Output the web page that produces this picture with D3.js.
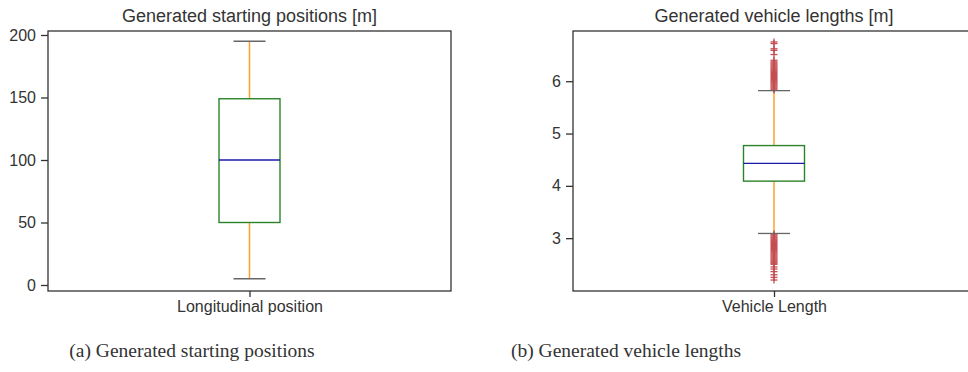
<!DOCTYPE html>
<html>
<head>
<meta charset="utf-8">
<script src="https://cdn.jsdelivr.net/npm/d3@7"></script>
<style>
  body { margin: 0; background: #fff; }
  svg text { fill: #333; }
</style>
</head>
<body>
<svg id="chart" width="968" height="372"></svg>
<script>
// box stats: [low whisker, Q1, median, Q3, high whisker]
const posCategories = ["Longitudinal position"];
const posStats = [5, 50, 100, 149, 195];
const posTicks = [0, 50, 100, 150, 200];

const lenCategories = ["Vehicle Length"];
const lenStats = [3.09, 4.09, 4.43, 4.77, 5.82];
const lenTicks = [3, 4, 5, 6];
const lenFliersHigh = [5.83, 5.85, 5.87, 5.89, 5.91, 5.93, 5.95, 5.97, 5.99, 6.01,
    6.03, 6.05, 6.07, 6.09, 6.11, 6.13, 6.15, 6.17, 6.19, 6.21, 6.23, 6.25, 6.27,
    6.29, 6.31, 6.33, 6.35, 6.37, 6.40, 6.51, 6.59, 6.62, 6.72, 6.75];
const lenFliersLow = [3.08, 3.06, 3.04, 3.02, 3.00, 2.98, 2.96, 2.94, 2.92, 2.90,
    2.88, 2.86, 2.84, 2.82, 2.80, 2.78, 2.76, 2.74, 2.72, 2.70, 2.68, 2.66, 2.64,
    2.62, 2.60, 2.58, 2.56, 2.54, 2.52, 2.50, 2.45, 2.41, 2.36, 2.30, 2.25, 2.20];

const titles = ["Generated starting positions [m]", "Generated vehicle lengths [m]"];
const captions = ["(a) Generated starting positions", "(b) Generated vehicle lengths"];

const svg = d3.select("#chart");

function drawBox(opts) {
    const { left, right, top, bottom, domain, cats, stats, ticks, fliers, title } = opts;
    const g = svg.append("g");

    const x = d3.scalePoint().domain(cats).range([left, right]).padding(0.5);
    const y = d3.scaleLinear().domain(domain).range([bottom, top]);

    const boxW = 61, capW = 32;
    const cx = x(cats[0]);
    const [lo, q1, med, q3, hi] = stats;

    // whiskers
    g.append("line").attr("x1", cx).attr("x2", cx).attr("y1", y(q3)).attr("y2", y(hi))
        .attr("stroke", "#ff9f2e").attr("stroke-width", 1.5);
    g.append("line").attr("x1", cx).attr("x2", cx).attr("y1", y(q1)).attr("y2", y(lo))
        .attr("stroke", "#ff9f2e").attr("stroke-width", 1.5);

    // fliers as '+'
    const fl = g.append("g").attr("stroke", "#c44e52").attr("stroke-width", 1.3);
    fliers.forEach(v => {
        fl.append("line").attr("x1", cx - 3.5).attr("x2", cx + 3.5).attr("y1", y(v)).attr("y2", y(v));
        fl.append("line").attr("x1", cx).attr("x2", cx).attr("y1", y(v) - 3.5).attr("y2", y(v) + 3.5);
    });

    // caps
    [lo, hi].forEach(v => {
        g.append("line").attr("x1", cx - capW / 2).attr("x2", cx + capW / 2)
            .attr("y1", y(v)).attr("y2", y(v))
            .attr("stroke", "#666").attr("stroke-width", 1.3);
    });

    // box
    g.append("rect").attr("x", cx - boxW / 2).attr("width", boxW)
        .attr("y", y(q3)).attr("height", y(q1) - y(q3))
        .attr("fill", "none").attr("stroke", "#2a832a").attr("stroke-width", 1.4);
    g.append("line").attr("x1", cx - boxW / 2).attr("x2", cx + boxW / 2)
        .attr("y1", y(med)).attr("y2", y(med))
        .attr("stroke", "#1a1aa8").attr("stroke-width", 1.4);

    // frame
    g.append("rect").attr("x", left).attr("y", top)
        .attr("width", right - left).attr("height", bottom - top)
        .attr("fill", "none").attr("stroke", "#333").attr("stroke-width", 1.3);

    const yAxis = g.append("g").attr("transform", `translate(${left},0)`)
        .call(d3.axisLeft(y).tickValues(ticks).tickFormat(d3.format("d")).tickSize(7).tickPadding(5));
    const xAxis = g.append("g").attr("transform", `translate(0,${bottom})`)
        .call(d3.axisBottom(x).tickSize(6).tickPadding(4));
    [yAxis, xAxis].forEach(a => {
        a.select(".domain").remove();
        a.selectAll(".tick line").attr("stroke", "#333").attr("stroke-width", 1.3);
        a.selectAll(".tick text").style("font-family", "Liberation Sans, Arial, sans-serif")
            .style("font-size", "16px").attr("fill", "#333");
    });

    g.append("text")
        .attr("x", (left + right) / 2)
        .attr("y", top - 9)
        .attr("text-anchor", "middle")
        .style("font-family", "Liberation Sans, Arial, sans-serif")
        .style("font-size", "18px")
        .text(title);
}

drawBox({
    left: 48, right: 451, top: 31, bottom: 291,
    domain: [-4.8, 203.2], cats: posCategories, stats: posStats,
    ticks: posTicks, fliers: [], title: titles[0]
});

drawBox({
    left: 573, right: 975, top: 31, bottom: 291,
    domain: [1.99, 6.96], cats: lenCategories, stats: lenStats,
    ticks: lenTicks, fliers: lenFliersHigh.concat(lenFliersLow), title: titles[1]
});

svg.selectAll(".caption")
    .data(captions)
    .enter().append("text")
    .attr("class", "caption")
    .attr("x", (d, i) => i === 0 ? 192 : 626)
    .attr("y", 357)
    .attr("text-anchor", "middle")
    .style("font-family", "Liberation Serif, serif")
    .style("font-size", "19.5px")
    .attr("fill", "#111")
    .text(d => d);
</script>
</body>
</html>
